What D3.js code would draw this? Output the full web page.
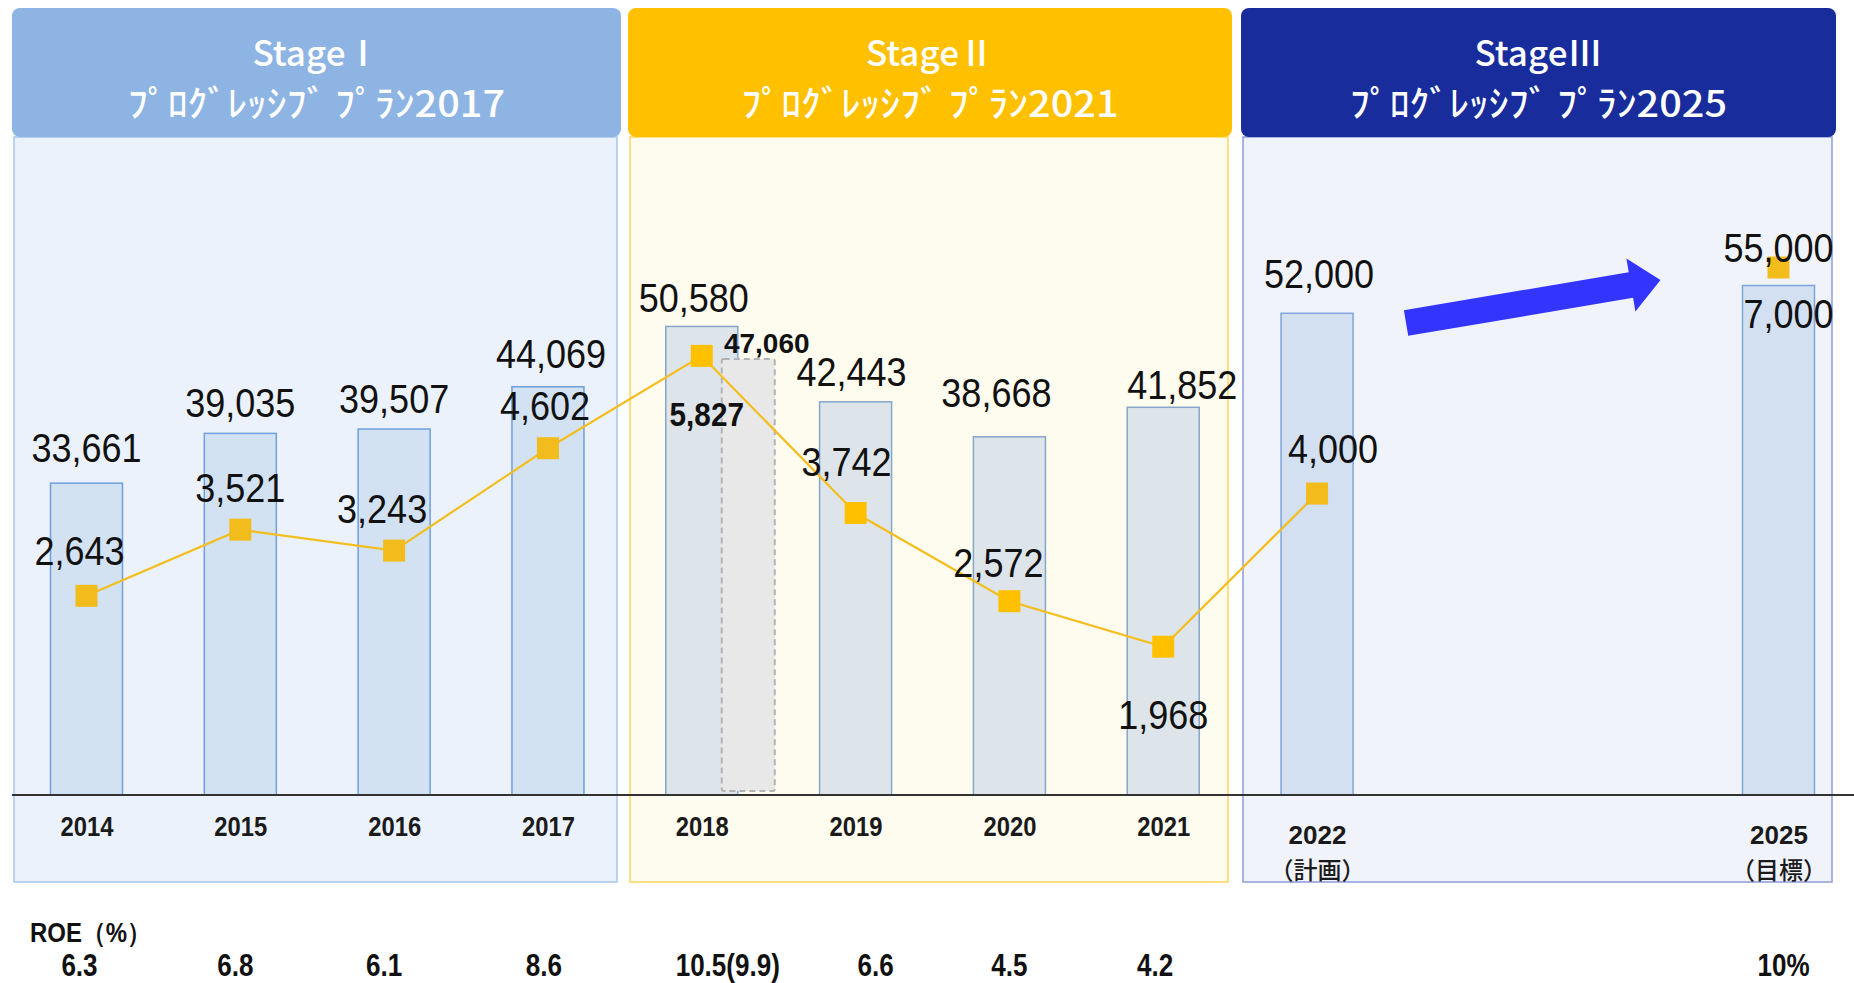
<!DOCTYPE html>
<html>
<head>
<meta charset="utf-8">
<script src="https://cdn.jsdelivr.net/npm/d3@7"></script>
<style>
  body { margin: 0; background: #fff; }
  svg { display: block; }
</style>
</head>
<body>
<div id="chart"></div>
<script>
// ---- data ----
const years = [2014, 2015, 2016, 2017, 2018, 2019, 2020, 2021, 2022, 2025];
const sales = [33661, 39035, 39507, 44069, 50580, 42443, 38668, 41852, 52000, 55000];
const profit = [2643, 3521, 3243, 4602, 5827, 3742, 2572, 1968, 4000, 7000];
const salesAdj2018 = 47060;            // dashed bar next to 2018
const roe = ["6.3", "6.8", "6.1", "8.6", "10.5(9.9)", "6.6", "4.5", "4.2", "", "10%"];
const yearNotes = ["", "", "", "", "", "", "", "", "（計画）", "（目標）"];
const stageNames = ["StageⅠ", "StageⅡ", "StageⅢ"];
const stagePlans = ["ﾌﾟﾛｸﾞﾚｯｼﾌﾞ ﾌﾟﾗﾝ2017", "ﾌﾟﾛｸﾞﾚｯｼﾌﾞ ﾌﾟﾗﾝ2021", "ﾌﾟﾛｸﾞﾚｯｼﾌﾞ ﾌﾟﾗﾝ2025"];

// ---- layout / styles ----
const width = 1854, height = 983;
const baseY = 795;
const barW = 72, mk = 22;
const stageBox = [[12, 621], [628, 1232], [1241, 1836]];
const headFill = ["#8EB4E3", "#FFC000", "#182C9C"];
const bodyFill = ["#EBF2FB", "#FEFBEF", "#F1F3FA"];
const bodyStroke = ["#A8C6EE", "#FFD65C", "#8F9CD9"];
const barFill = ["#D2E2F3", "#DDE5EA", "#D3E0F2"];
const barStroke = ["#6F9FDC", "#86A6CA", "#7EA5DB"];
const stageOf = y => y <= 2017 ? 0 : (y <= 2021 ? 1 : 2);

// label nudges (dx, dy) so text sits where the slide has it
const barNudge = [[0, -5], [0, 0], [0, 0], [3, -3], [-8, 2], [-4, 0], [-13, -14], [19, 8], [2, -9], [0, -8]];
const lineNudge = [[-7, -3], [0, 0], [-12, 0], [-3, 0], [5, 98], [-9, -9], [-11, 4], [0, 110], [16, -3], [10, 88]];
const roeNudge = [-7, -5, -10, -4, 26, 20, 0, -8, 0, 5];

const numFont = "'Liberation Sans', Arial, sans-serif";
const jpFont = "'Noto Sans CJK JP', 'Noto Sans', sans-serif";
const fmt = d3.format(",");

// squeeze text horizontally (the slide uses a condensed gothic)
function condense(sel, f) {
  sel.each(function () {
    const n = this.getComputedTextLength();
    d3.select(this).attr("textLength", n * f).attr("lengthAdjust", "spacingAndGlyphs");
  });
}

// ---- scales ----
const x = d3.scaleLinear().domain([2014, 2025]).range([86.5, 1778.5]);
const yBar = d3.scaleLinear().domain([0, 55000]).range([baseY, 285.5]);
const yLine = d3.scaleLinear().domain([0, 7000]).range([baseY, 267.5]);

const svg = d3.select("#chart").append("svg")
    .attr("width", width)
    .attr("height", height);

// stage panels
const stages = svg.append("g");
stageBox.forEach((b, i) => {
  stages.append("rect")
      .attr("x", b[0] + 2).attr("y", 137)
      .attr("width", b[1] - b[0] - 6).attr("height", 745)
      .attr("fill", bodyFill[i])
      .attr("stroke", bodyStroke[i]).attr("stroke-width", 1.5);
  stages.append("rect")
      .attr("x", b[0]).attr("y", 8)
      .attr("width", b[1] - b[0]).attr("height", 129)
      .attr("rx", 8)
      .attr("fill", headFill[i]);
  const cx = (b[0] + b[1]) / 2;
  stages.append("text")
      .attr("x", cx).attr("y", 66)
      .attr("text-anchor", "middle")
      .attr("font-family", jpFont).attr("font-size", 35).attr("font-weight", 500)
      .attr("fill", "#fff")
      .text(stageNames[i]);
  stages.append("text")
      .attr("x", cx).attr("y", 117)
      .attr("text-anchor", "middle")
      .attr("font-family", jpFont).attr("font-size", 36).attr("font-weight", 500)
      .attr("fill", "#fff")
      .attr("textLength", 377).attr("lengthAdjust", "spacingAndGlyphs")
      .text(stagePlans[i]);
});

// bars
svg.append("g").selectAll("rect")
  .data(years)
  .join("rect")
    .attr("x", d => x(d) - barW / 2)
    .attr("y", (d, i) => yBar(sales[i]))
    .attr("width", barW)
    .attr("height", (d, i) => baseY - yBar(sales[i]))
    .attr("fill", d => barFill[stageOf(d)])
    .attr("stroke", d => barStroke[stageOf(d)])
    .attr("stroke-width", 1.5);

// dashed 2018 bar (47,060)
svg.append("rect")
    .attr("x", x(2018) + 20)
    .attr("y", yBar(salesAdj2018))
    .attr("width", 53)
    .attr("height", baseY - 4 - yBar(salesAdj2018))
    .attr("rx", 2)
    .attr("fill", "#E8E8E8")
    .attr("stroke", "#B3B3B3")
    .attr("stroke-width", 2)
    .attr("stroke-dasharray", "6,4");

// baseline
svg.append("line")
    .attr("x1", 12).attr("x2", width)
    .attr("y1", baseY).attr("y2", baseY)
    .attr("stroke", "#333").attr("stroke-width", 2);

// x axis tick labels
const axis = svg.append("g")
    .attr("transform", `translate(0,${baseY})`)
    .call(d3.axisBottom(x).tickValues(years).tickFormat(d3.format("d")).tickSize(0).tickSizeOuter(0));
axis.select(".domain").remove();
axis.selectAll(".tick text")
    .attr("y", d => stageOf(d) === 2 ? 49 : 41)
    .attr("dy", null)
    .attr("fill", "#1a1a1a")
    .attr("font-family", numFont)
    .attr("font-size", d => stageOf(d) === 2 ? 26 : 28)
    .attr("font-weight", "bold");
condense(axis.selectAll(".tick text").filter(d => stageOf(d) < 2), 0.85);
axis.selectAll(".tick")
  .filter(d => yearNotes[years.indexOf(d)] !== "")
  .append("text")
    .attr("y", 84)
    .attr("fill", "#1a1a1a")
    .attr("font-family", jpFont)
    .attr("font-size", 24)
    .attr("font-weight", 500)
    .attr("text-anchor", "middle")
    .text(d => yearNotes[years.indexOf(d)]);

// profit line (2014-2022 joined, 2025 stands alone)
const lineYears = years.filter(d => d <= 2022);
svg.append("path")
    .datum(lineYears)
    .attr("fill", "none")
    .attr("stroke", "#F3BE1E")
    .attr("stroke-width", 2.2)
    .attr("d", d3.line().x(d => x(d)).y((d, i) => yLine(profit[i])));

svg.append("g").selectAll("rect")
  .data(years)
  .join("rect")
    .attr("x", d => x(d) - mk / 2)
    .attr("y", (d, i) => yLine(profit[i]) - mk / 2)
    .attr("width", mk).attr("height", mk)
    .attr("fill", d => stageOf(d) === 1 ? "#FFC000" : "#F1BC1C");

// bar value labels
const barLabels = svg.append("g").selectAll("text")
  .data(years)
  .join("text")
    .attr("x", (d, i) => x(d) + barNudge[i][0])
    .attr("y", (d, i) => yBar(sales[i]) - 16 + barNudge[i][1])
    .attr("text-anchor", "middle")
    .attr("font-family", numFont).attr("font-size", 40)
    .attr("fill", "#111")
    .text((d, i) => fmt(sales[i]));
condense(barLabels, 0.9);

svg.append("text")
    .attr("x", x(2018) + 65)
    .attr("y", yBar(salesAdj2018) - 6)
    .attr("text-anchor", "middle")
    .attr("font-family", numFont).attr("font-size", 28).attr("font-weight", "bold")
    .attr("fill", "#111")
    .text(fmt(salesAdj2018));

// profit labels
const lineLabels = svg.append("g").selectAll("text")
  .data(years)
  .join("text")
    .attr("x", (d, i) => x(d) + lineNudge[i][0])
    .attr("y", (d, i) => yLine(profit[i]) - 28 + lineNudge[i][1])
    .attr("text-anchor", "middle")
    .attr("font-family", numFont)
    .attr("font-size", d => d === 2018 ? 33 : 40)
    .attr("font-weight", d => d === 2018 ? "bold" : "normal")
    .attr("fill", "#111")
    .text((d, i) => fmt(profit[i]));
condense(lineLabels, 0.9);

// blue arrow 2022 -> 2025
const a0 = [x(2022) + 89, 323], a1 = [x(2025) - 118, 280];
const ang = Math.atan2(a1[1] - a0[1], a1[0] - a0[0]);
const len = Math.hypot(a1[0] - a0[0], a1[1] - a0[1]);
const sw = 13, hw = 27, hl = 30;
const arrowPts = [[0, -sw], [len - hl, -sw], [len - hl, -hw], [len, 0], [len - hl, hw], [len - hl, sw], [0, sw]];
svg.append("polygon")
    .attr("points", arrowPts.map(p => p.join(",")).join(" "))
    .attr("transform", `translate(${a0[0]},${a0[1]}) rotate(${ang * 180 / Math.PI})`)
    .attr("fill", "#3434FF");

// ROE row
svg.append("text")
    .attr("x", 30).attr("y", 942)
    .attr("font-family", numFont)
    .attr("font-size", 27).attr("font-weight", "bold")
    .attr("fill", "#111")
    .attr("textLength", 121).attr("lengthAdjust", "spacingAndGlyphs")
    .text("ROE（%）");
const roeLabels = svg.append("g").selectAll("text")
  .data(years)
  .join("text")
    .attr("x", (d, i) => x(d) + roeNudge[i])
    .attr("y", 976)
    .attr("text-anchor", "middle")
    .attr("font-family", numFont)
    .attr("font-size", 31).attr("font-weight", "bold")
    .attr("fill", "#111")
    .text((d, i) => roe[i]);
condense(roeLabels.filter((d, i) => roe[i] !== ""), 0.84);
</script>
</body>
</html>
